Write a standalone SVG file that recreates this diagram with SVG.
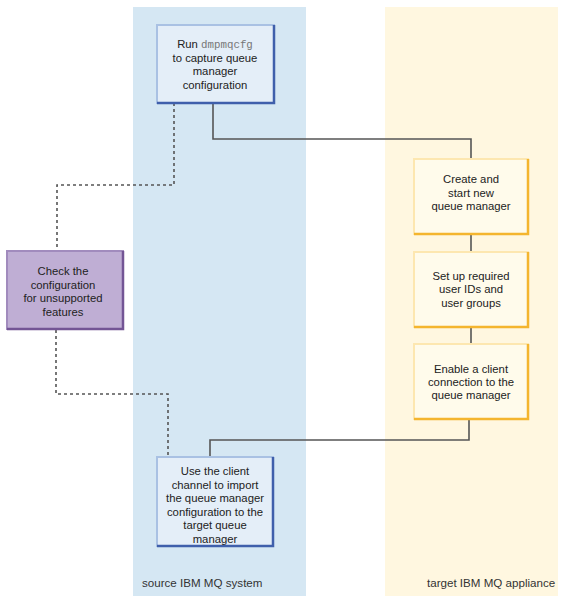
<svg xmlns="http://www.w3.org/2000/svg" width="577" height="604" viewBox="0 0 577 604">
<style>
text{font-family:"Liberation Sans",Arial,sans-serif;font-size:11.3px;fill:#222;text-anchor:middle}
.lbl{font-size:11.6px;text-anchor:start;fill:#333}
.mono{font-family:"Liberation Mono","Courier New",monospace;fill:#777;font-size:10.8px}
.conn{fill:none;stroke:#555;stroke-width:1.6}
.dot{fill:none;stroke:#555;stroke-width:1.6;stroke-dasharray:3,3}
.bbox{fill:#e4eef8;stroke:#a9c1e3;stroke-width:2}
.bdark{fill:none;stroke:#3f5fab;stroke-width:2.5}
.ybox{fill:#fffbeb;stroke:#fde7b0;stroke-width:2}
.ydark{fill:none;stroke:#f4b52e;stroke-width:2.5}
.pbox{fill:#bfaed4;stroke:#a18bbd;stroke-width:2}
.pdark{fill:none;stroke:#735595;stroke-width:2.5}
</style>
<rect x="0" y="0" width="577" height="604" fill="#ffffff"/>
<g id="lanes">
<rect x="133" y="7" width="173" height="589" fill="#d5e7f3"/>
<rect x="385" y="7" width="173" height="589" fill="#fff7e0"/>
<text class="lbl" x="142" y="587">source IBM MQ system</text>
<text class="lbl" x="427" y="587">target IBM MQ appliance</text>
</g>
<g id="connectors">
<polyline class="conn" points="213,103 213,139 471,139 471,159"/>
<line class="conn" x1="471" y1="235" x2="471" y2="252"/>
<line class="conn" x1="471" y1="328" x2="471" y2="344"/>
<polyline class="conn" points="469,420 469,440 210,440 210,457"/>
<polyline class="dot" points="174,103 174,185 57,185 57,250"/>
<polyline class="dot" points="56,330 56,394 168,394 168,457"/>
</g>
<g id="run">
<rect class="bbox" x="157" y="25" width="117" height="78"/>
<polyline class="bdark" points="157,103 274,103 274,25"/>
<text x="215" y="48"><tspan>Run </tspan><tspan class="mono">dmpmqcfg</tspan></text>
<text x="215" y="62">to capture queue</text>
<text x="215" y="75">manager</text>
<text x="215" y="89">configuration</text>
</g>
<g id="check">
<rect class="pbox" x="7" y="251" width="116" height="78"/>
<polyline class="pdark" points="7,329 123,329 123,251"/>
<text x="63" y="275">Check the</text>
<text x="63" y="289">configuration</text>
<text x="63" y="302">for unsupported</text>
<text x="63" y="316">features</text>
</g>
<g id="create">
<rect class="ybox" x="414" y="159" width="114" height="75"/>
<polyline class="ydark" points="414,234 528,234 528,159"/>
<text x="471" y="183">Create and</text>
<text x="471" y="197">start new</text>
<text x="471" y="210">queue manager</text>
</g>
<g id="setup">
<rect class="ybox" x="414" y="252" width="114" height="75"/>
<polyline class="ydark" points="414,327 528,327 528,252"/>
<text x="471" y="280">Set up required</text>
<text x="471" y="293">user IDs and</text>
<text x="471" y="307">user groups</text>
</g>
<g id="enable">
<rect class="ybox" x="414" y="344" width="114" height="75"/>
<polyline class="ydark" points="414,419 528,419 528,344"/>
<text x="471" y="373">Enable a client</text>
<text x="471" y="386">connection to the</text>
<text x="471" y="399">queue manager</text>
</g>
<g id="use">
<rect class="bbox" x="157" y="457" width="116" height="89"/>
<polyline class="bdark" points="157,546 273,546 273,457"/>
<text x="215" y="475">Use the client</text>
<text x="215" y="489">channel to import</text>
<text x="215" y="502">the queue manager</text>
<text x="215" y="516">configuration to the</text>
<text x="215" y="529">target queue</text>
<text x="215" y="543">manager</text>
</g>
</svg>
